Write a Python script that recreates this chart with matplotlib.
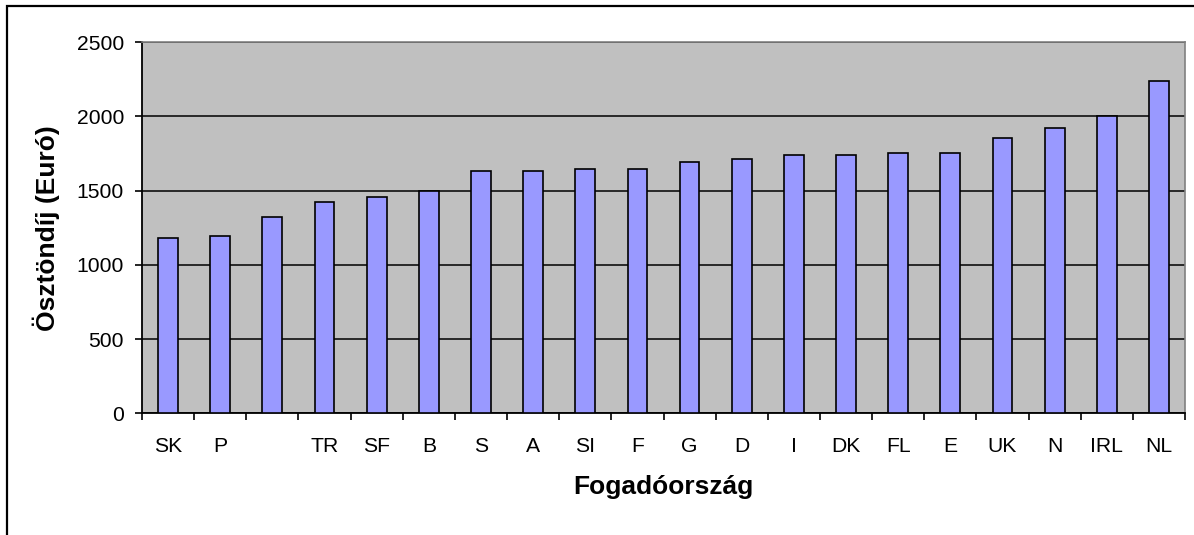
"""Ösztöndíj by host country, Excel-style bar chart."""

import matplotlib

matplotlib.use("Agg")
import matplotlib.pyplot as plt
from matplotlib.patches import Rectangle
import numpy as np

plt.rcParams["font.family"] = ["Liberation Sans", "DejaVu Sans"]

COUNTRIES = ["SK", "P", "", "TR", "SF", "B", "S", "A", "SI", "F",
             "G", "D", "I", "DK", "FL", "E", "UK", "N", "IRL", "NL"]
GRANT_EUR = [1180, 1195, 1325, 1425, 1455, 1500, 1630, 1630, 1645, 1645,
             1690, 1710, 1740, 1740, 1755, 1755, 1855, 1920, 2000, 2240]
Y_TICKS = [0, 500, 1000, 1500, 2000, 2500]

W, H = 1194, 535
fig = plt.figure(figsize=(W / 100, H / 100), dpi=100)
ax = fig.add_axes([142 / W, 1 - 413.3 / H, (1185 - 142) / W, (413.3 - 42) / H])

x = np.arange(len(COUNTRIES))
ax.set_facecolor("#C0C0C0")
ax.bar(x, GRANT_EUR, width=0.38, color="#9999FF", edgecolor="black",
       linewidth=1.2, zorder=3)

ax.set_xlim(-0.5, len(COUNTRIES) - 0.5)
ax.set_ylim(0, 2500)
ax.set_yticks(Y_TICKS)
ax.set_yticklabels([str(v) for v in Y_TICKS], fontsize=15.2)
ax.grid(axis="y", color="black", linewidth=1.1, zorder=1)

# labels under the bars, ticks between categories
ax.set_xticks(x)
ax.set_xticklabels(COUNTRIES, fontsize=15.2)
ax.tick_params(axis="x", which="major", length=0, pad=17)
ax.set_xticks(np.arange(len(COUNTRIES) + 1) - 0.5, minor=True)
ax.tick_params(axis="x", which="minor", length=5, width=1.2, direction="out")
ax.tick_params(axis="y", length=5, width=1.2, direction="out", pad=8)

for side in ("left", "bottom"):
    ax.spines[side].set_color("black")
    ax.spines[side].set_linewidth(1.3)
for side in ("top", "right"):
    ax.spines[side].set_color("#808080")
    ax.spines[side].set_linewidth(1.2)

ax.set_xlabel("Fogadóország", fontsize=19, fontweight="bold", labelpad=14)
ax.set_ylabel("Ösztöndíj (Euró)", fontsize=19, fontweight="bold", labelpad=12)

# outer chart frame (open on right and bottom, cropped)
fig.patches.append(Rectangle((7 / W, -0.1), 1.2, 1.1 - 6 / H,
                             transform=fig.transFigure, fill=False,
                             edgecolor="black", linewidth=1.6))

fig.savefig("out.png", dpi=100)
